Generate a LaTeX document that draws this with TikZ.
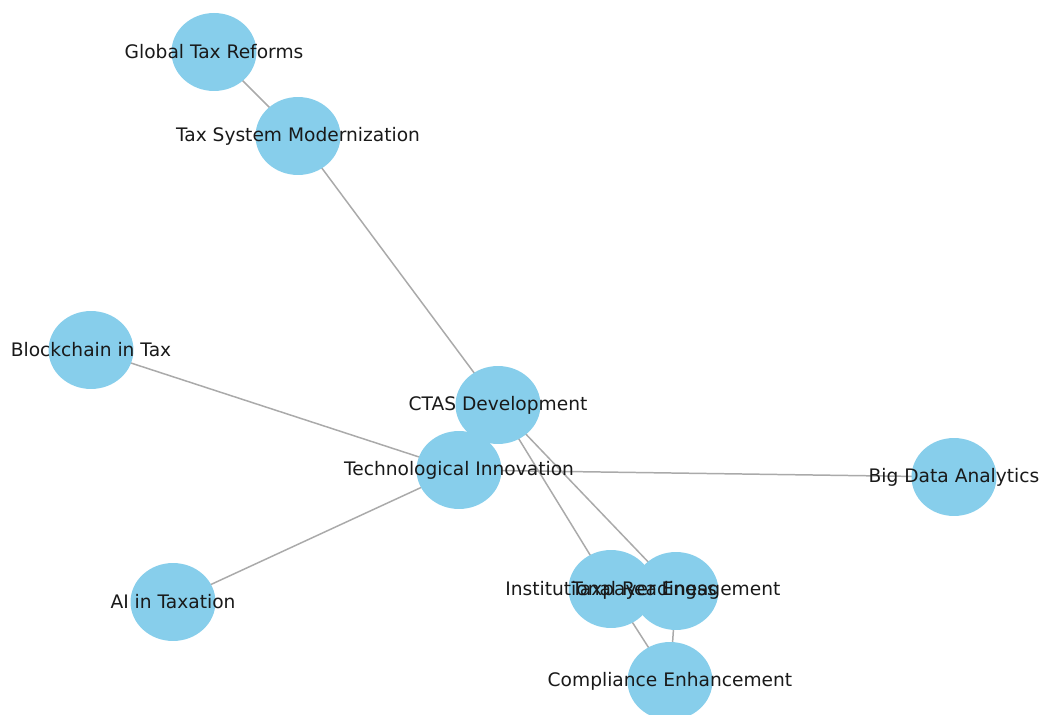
\documentclass[tikz,border=0pt]{standalone}
\usepackage{fontspec}
\setmainfont{DejaVu Sans}
\usepackage{tikz}
\usetikzlibrary{shapes.geometric,backgrounds}

\definecolor{bubblefill}{RGB}{135,206,235}
\definecolor{edgegray}{RGB}{170,170,170}

\begin{document}
\begin{tikzpicture}[x=0.02cm, y=-0.02cm,
    bubble/.style={ellipse, fill=bubblefill, minimum width=1.7cm, minimum height=1.56cm, inner sep=0pt},
    tag/.style={font=\fontsize{10.6}{12}\selectfont, text=black!90, inner sep=0pt},
    edge/.style={draw=edgegray, line width=0.85pt}]
    \useasboundingbox (0,0) rectangle (1041,715);

    % bubbles
    \node[bubble] (GTR) at (214, 52) {};
    \node[bubble] (TSM) at (298, 136) {};
    \node[bubble] (BIT) at (91, 350) {};
    \node[bubble] (CTAS) at (498, 405) {};
    \node[bubble] (TI) at (459, 470) {};
    \node[bubble] (BDA) at (954, 477) {};
    \node[bubble] (AIT) at (173, 602) {};
    \node[bubble] (IR) at (611, 589) {};
    \node[bubble] (TE) at (676, 591) {};
    \node[bubble] (CE) at (670, 681) {};

    % edges behind the bubbles
    \begin{scope}[on background layer]
        \draw[edge] (GTR.center) -- (TSM.center);
        \draw[edge] (TSM.center) -- (CTAS.center);
        \draw[edge] (CTAS.center) -- (TI.center);
        \draw[edge] (BIT.center) -- (TI.center);
        \draw[edge] (AIT.center) -- (TI.center);
        \draw[edge] (TI.center) -- (BDA.center);
        \draw[edge] (CTAS.center) -- (IR.center);
        \draw[edge] (CTAS.center) -- (TE.center);
        \draw[edge] (IR.center) -- (CE.center);
        \draw[edge] (TE.center) -- (CE.center);
    \end{scope}

    % labels on top
    \node[tag] at (GTR) {Global Tax Reforms};
    \node[tag] at (TSM) {Tax System Modernization};
    \node[tag] at (BIT) {Blockchain in Tax};
    \node[tag] at (CTAS) {CTAS Development};
    \node[tag] at (TI) {Technological Innovation};
    \node[tag] at (BDA) {Big Data Analytics};
    \node[tag] at (AIT) {AI in Taxation};
    \node[tag] at (IR) {Institutional Readiness};
    \node[tag] at (TE) {Taxpayer Engagement};
    \node[tag] at (CE) {Compliance Enhancement};
\end{tikzpicture}
\end{document}
